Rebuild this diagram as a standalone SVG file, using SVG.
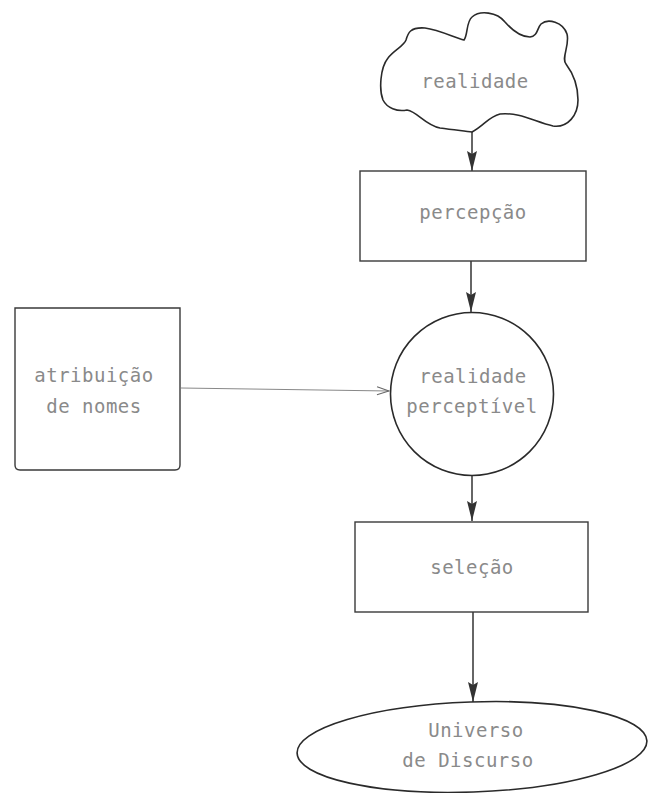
<svg xmlns="http://www.w3.org/2000/svg" width="648" height="793" viewBox="0 0 648 793">
  <style>
    .outline { fill: none; stroke: #2a2a2a; stroke-width: 1.6; }
    .box { fill: none; stroke: #3a3a3a; stroke-width: 1.4; }
    .flow { fill: none; stroke: #333; stroke-width: 1.5; }
    .link { fill: none; stroke: #888; stroke-width: 1; }
    .label { font-family: "DejaVu Sans Mono", "Liberation Mono", monospace; font-size: 19px; letter-spacing: 0.5px; fill: #8a8a8a; text-anchor: middle; }
  </style>
  <defs>
    <marker id="solid" markerUnits="userSpaceOnUse" markerWidth="22" markerHeight="12" refX="20" refY="0" viewBox="0 -6 22 12" orient="auto" overflow="visible">
      <path d="M0,-5 L20,0 L0,5 L3,0 Z" fill="#333"/>
    </marker>
    <marker id="open" markerUnits="userSpaceOnUse" markerWidth="14" markerHeight="10" refX="12" refY="0" viewBox="0 -5 14 10" orient="auto" overflow="visible">
      <path d="M0,-4 L12,0 L0,4" fill="none" stroke="#666" stroke-width="1"/>
    </marker>
  </defs>

  <!-- connectors -->
  <g id="connectors">
    <line class="flow" x1="472" y1="132" x2="472" y2="171" marker-end="url(#solid)"/>
    <line class="flow" x1="471" y1="261" x2="471" y2="312" marker-end="url(#solid)"/>
    <line class="link" x1="181" y1="388" x2="389" y2="391" marker-end="url(#open)"/>
    <line class="flow" x1="472" y1="476" x2="472" y2="521" marker-end="url(#solid)"/>
    <line class="flow" x1="473" y1="612" x2="473" y2="702" marker-end="url(#solid)"/>
  </g>

  <!-- cloud: realidade -->
  <g id="realidade">
    <path class="outline" d="M472,132
      C485,125 488,117 500,114
      C520,112 535,122 553,126
      C568,128 578,115 578,100
      C578,85 572,72 566,64
      C561,58 570,45 567,34
      C563,22 548,18 541,24
      C537,28 538,36 530,37
      C520,37 512,30 505,22
      C497,12 480,10 472,17
      C466,22 468,35 464,40
      C455,38 440,30 425,28
      C410,27 408,33 406,40
      C404,46 394,50 388,58
      C380,68 379,90 383,100
      C387,108 397,112 407,110
      C418,112 425,125 440,128
      C455,130 465,131 472,132 Z"/>
    <text class="label" x="475" y="88">realidade</text>
  </g>

  <!-- box: percepção -->
  <g id="percepcao">
    <rect class="box" x="360" y="171" width="226" height="90"/>
    <text class="label" x="473" y="219">percepção</text>
  </g>

  <!-- circle: realidade perceptível -->
  <g id="realidade-perceptivel">
    <circle class="outline" cx="472" cy="394" r="81.5"/>
    <text class="label" x="473" y="383">realidade</text>
    <text class="label" x="472" y="413">perceptível</text>
  </g>

  <!-- box: atribuição de nomes -->
  <g id="atribuicao">
    <path class="box" d="M15,308 L180,308 L180,465 Q180,470 175,470 L20,470 Q15,470 15,465 Z"/>
    <text class="label" x="94" y="382">atribuição</text>
    <text class="label" x="94" y="413">de nomes</text>
  </g>

  <!-- box: seleção -->
  <g id="selecao">
    <rect class="box" x="355" y="522" width="233" height="90"/>
    <text class="label" x="472" y="574">seleção</text>
  </g>

  <!-- ellipse: Universo de Discurso -->
  <g id="universo">
    <ellipse class="outline" cx="472" cy="747" rx="175" ry="45" transform="rotate(-2 472 747)"/>
    <text class="label" x="476" y="737">Universo</text>
    <text class="label" x="468" y="767">de Discurso</text>
  </g>
</svg>
